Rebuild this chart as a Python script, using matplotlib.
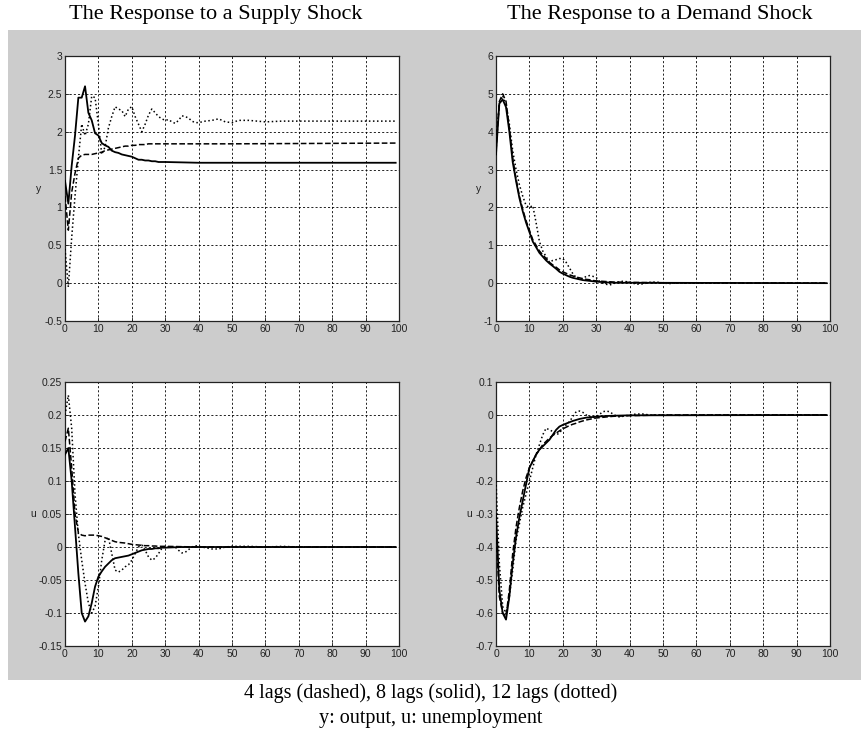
import matplotlib
matplotlib.use("Agg")
import matplotlib.pyplot as plt
from matplotlib.ticker import FuncFormatter
from matplotlib.patches import Rectangle

# impulse responses: first 31 horizons, then sparse tail points
steps = list(range(31))

# supply shock, output (y)
sup_y_8 = [1.35, 1.05, 1.55, 1.95, 2.45, 2.45, 2.6, 2.25, 2.15, 1.98, 1.95, 1.85, 1.82, 1.8, 1.75, 1.73,
           1.72, 1.70, 1.69, 1.68, 1.67, 1.65, 1.63, 1.63, 1.62, 1.62, 1.61, 1.61, 1.60, 1.60, 1.60]
sup_y_8_tx = [40, 99]
sup_y_8_tv = [1.59, 1.59]
sup_y_4 = [1.15, 0.7, 1.2, 1.45, 1.65, 1.69, 1.70, 1.70, 1.70, 1.71, 1.72, 1.73, 1.75, 1.76, 1.77, 1.78,
           1.79, 1.80, 1.81, 1.81, 1.82, 1.82, 1.83, 1.83, 1.83, 1.84, 1.84, 1.84, 1.84, 1.84, 1.84]
sup_y_4_tx = [50, 99]
sup_y_4_tv = [1.84, 1.85]
sup_y_12 = [0.45, -0.05, 0.6, 1.15, 1.65, 2.1, 1.95, 2.1, 2.47, 2.45, 2.1, 1.7, 1.8, 2.05, 2.2, 2.33,
            2.3, 2.28, 2.2, 2.3, 2.33, 2.2, 2.1, 2.0, 2.1, 2.22, 2.3, 2.25, 2.2, 2.17, 2.15]
sup_y_12_tx = [31, 32, 33, 34, 35, 36, 37, 38, 39, 40, 42, 44, 46, 48, 50, 52, 55, 60, 65, 70, 99]
sup_y_12_tv = [2.16, 2.13, 2.11, 2.15, 2.21, 2.2, 2.18, 2.14, 2.12, 2.12, 2.14, 2.15, 2.17, 2.13, 2.12,
               2.15, 2.15, 2.13, 2.14, 2.14, 2.14]

# demand shock, output (y)
dem_y_8 = [3.4, 4.75, 4.85, 4.65, 4.0, 3.2, 2.7, 2.25, 1.9, 1.6, 1.35, 1.1, 0.95, 0.8, 0.7, 0.6,
           0.52, 0.45, 0.38, 0.3, 0.25, 0.21, 0.17, 0.14, 0.12, 0.1, 0.08, 0.07, 0.06, 0.05, 0.04]
dem_y_8_tx = [33, 36, 40, 99]
dem_y_8_tv = [0.02, 0.01, 0.01, 0.0]
dem_y_4 = [3.5, 4.8, 5.0, 4.8, 4.1, 3.3, 2.75, 2.3, 1.95, 1.65, 1.4, 1.15, 1.0, 0.85, 0.75, 0.65,
           0.55, 0.48, 0.42, 0.35, 0.3, 0.26, 0.22, 0.19, 0.16, 0.14, 0.12, 0.1, 0.09, 0.07, 0.06]
dem_y_4_tx = [35, 40, 50, 99]
dem_y_4_tv = [0.03, 0.02, 0.01, 0.0]
dem_y_12 = [3.8, 4.7, 4.95, 4.7, 4.2, 3.5, 3.0, 2.6, 2.3, 2.05, 2.0, 2.05, 1.6, 1.1, 0.85, 0.7,
            0.55, 0.6, 0.62, 0.65, 0.65, 0.55, 0.4, 0.25, 0.15, 0.1, 0.12, 0.18, 0.2, 0.18, 0.15]
dem_y_12_tx = [31, 32, 33, 34, 35, 36, 38, 40, 42, 44, 46, 48, 50, 52, 55, 60, 99]
dem_y_12_tv = [0.05, 0.0, -0.03, -0.05, -0.02, 0.02, 0.05, 0.03, -0.03, -0.02, 0.02, 0.03, 0.0,
               -0.01, 0.01, 0.0, 0.0]

# supply shock, unemployment (u)
sup_u_8 = [0.14, 0.15, 0.1, 0.03, -0.04, -0.1, -0.113, -0.105, -0.085, -0.06, -0.045, -0.037, -0.03,
           -0.025, -0.02, -0.017, -0.016, -0.015, -0.014, -0.013, -0.011, -0.009, -0.007, -0.005,
           -0.004, -0.003, -0.003, -0.002, -0.002, -0.001, -0.001]
sup_u_8_tx = [35, 99]
sup_u_8_tv = [0.0, 0.0]
sup_u_4 = [0.16, 0.18, 0.12, 0.05, 0.022, 0.018, 0.017, 0.018, 0.018, 0.018, 0.017, 0.016, 0.014,
           0.012, 0.01, 0.008, 0.007, 0.0065, 0.006, 0.005, 0.004, 0.0035, 0.003, 0.0025, 0.002,
           0.002, 0.0015, 0.0015, 0.001, 0.001, 0.001]
sup_u_4_tx = [40, 99]
sup_u_4_tv = [0.0, 0.0]
sup_u_12 = [0.2, 0.23, 0.18, 0.08, 0.02, -0.02, -0.055, -0.085, -0.1, -0.09, -0.06, -0.02, 0.01,
            0.015, -0.01, -0.035, -0.038, -0.035, -0.03, -0.027, -0.02, -0.01, 0.0, 0.003, -0.005,
            -0.015, -0.02, -0.017, -0.01, -0.002, 0.001]
sup_u_12_tx = [31, 33, 34, 35, 36, 37, 38, 39, 40, 42, 44, 46, 48, 50, 55, 60, 65, 70, 99]
sup_u_12_tv = [0.0, 0.0, -0.005, -0.009, -0.008, -0.004, 0.0, 0.002, 0.001, -0.001, -0.003, -0.003,
               0.0, 0.001, 0.001, 0.0, 0.001, 0.0, 0.0]

# demand shock, unemployment (u)
dem_u_8 = [-0.3, -0.53, -0.6, -0.62, -0.55, -0.45, -0.37, -0.31, -0.26, -0.21, -0.16, -0.14, -0.12,
           -0.105, -0.095, -0.085, -0.075, -0.06, -0.045, -0.035, -0.03, -0.026, -0.022, -0.018,
           -0.015, -0.012, -0.01, -0.008, -0.007, -0.006, -0.005]
dem_u_8_tx = [33, 36, 40, 99]
dem_u_8_tv = [-0.003, -0.002, -0.001, 0.0]
dem_u_4 = [-0.35, -0.55, -0.6, -0.61, -0.53, -0.42, -0.34, -0.28, -0.23, -0.19, -0.16, -0.14, -0.12,
           -0.105, -0.09, -0.08, -0.07, -0.062, -0.055, -0.048, -0.042, -0.037, -0.032, -0.028,
           -0.025, -0.021, -0.018, -0.015, -0.013, -0.011, -0.009]
dem_u_4_tx = [35, 40, 50, 99]
dem_u_4_tv = [-0.004, -0.002, 0.0, 0.0]
dem_u_12 = [-0.2, -0.45, -0.58, -0.6, -0.55, -0.47, -0.38, -0.33, -0.28, -0.24, -0.2, -0.16, -0.12,
            -0.09, -0.06, -0.04, -0.045, -0.05, -0.06, -0.055, -0.04, -0.03, -0.02, -0.005, 0.01,
            0.012, 0.008, 0.0, -0.005, -0.008, -0.005]
dem_u_12_tx = [31, 32, 33, 34, 35, 36, 37, 38, 40, 42, 44, 46, 50, 55, 60, 99]
dem_u_12_tv = [0.002, 0.01, 0.012, 0.01, 0.003, -0.003, -0.006, -0.004, 0.0, 0.003, 0.003, 0.0, 0.0,
               -0.001, 0.0, 0.0]

titles = ["The Response to a Supply Shock", "The Response to a Demand Shock"]
caption = ["4 lags (dashed), 8 lags (solid), 12 lags (dotted)", "y: output, u: unemployment"]

W, H = 861, 745
fig = plt.figure(figsize=(W / 100, H / 100), dpi=100)
fig.patch.set_facecolor("white")

def px(l, t, r, b):
    return [l / W, 1 - b / H, (r - l) / W, (b - t) / H]

# gray matlab figure area, kept behind the axes
fig.patches.append(Rectangle((8 / W, 1 - 680 / H), (W - 8) / W, 650 / H,
                             transform=fig.transFigure, facecolor="#cccccc",
                             edgecolor="none", zorder=-10))

tick_font = ["Liberation Sans Narrow", "Liberation Sans", "DejaVu Sans"]
serif = ["Liberation Serif", "DejaVu Serif"]

panels = [
    (px(65, 56, 399, 321), (-0.5, 3), 0.5, "y",
     [(sup_y_4, sup_y_4_tx, sup_y_4_tv, "--"), (sup_y_8, sup_y_8_tx, sup_y_8_tv, "-"),
      (sup_y_12, sup_y_12_tx, sup_y_12_tv, ":")]),
    (px(496, 56, 830, 321), (-1, 6), 1, "y",
     [(dem_y_4, dem_y_4_tx, dem_y_4_tv, "--"), (dem_y_8, dem_y_8_tx, dem_y_8_tv, "-"),
      (dem_y_12, dem_y_12_tx, dem_y_12_tv, ":")]),
    (px(65, 382, 399, 646), (-0.15, 0.25), 0.05, "u",
     [(sup_u_4, sup_u_4_tx, sup_u_4_tv, "--"), (sup_u_8, sup_u_8_tx, sup_u_8_tv, "-"),
      (sup_u_12, sup_u_12_tx, sup_u_12_tv, ":")]),
    (px(496, 382, 830, 646), (-0.7, 0.1), 0.1, "u",
     [(dem_u_4, dem_u_4_tx, dem_u_4_tv, "--"), (dem_u_8, dem_u_8_tx, dem_u_8_tv, "-"),
      (dem_u_12, dem_u_12_tx, dem_u_12_tv, ":")]),
]

for pos, ylim, ystep, ylab, series in panels:
    ax = fig.add_axes(pos)
    ax.set_facecolor("white")
    for head, tx, tv, ls in series:
        ax.plot(steps + tx, head + tv, color="black", linestyle=ls,
                lw=1.3 if ls == "-" else 1.1, zorder=3)
    ax.set_xlim(0, 100)
    ax.set_ylim(*ylim)
    ax.set_xticks(range(0, 101, 10))
    n = int(round((ylim[1] - ylim[0]) / ystep))
    ax.set_yticks([ylim[0] + i * ystep for i in range(n + 1)])
    ax.yaxis.set_major_formatter(FuncFormatter(lambda v, p: "%g" % round(v, 4)))
    ax.grid(True, color="black", linestyle=(0, (2.5, 2.5)), lw=0.6)
    ax.tick_params(direction="in", length=3, width=0.6, pad=2, labelsize=7.5,
                   colors="#222222")
    for lbl in ax.get_xticklabels() + ax.get_yticklabels():
        lbl.set_family(tick_font)
    for sp in ax.spines.values():
        sp.set_color("#222222")
        sp.set_linewidth(0.9)
    ax.set_ylabel(ylab, rotation=0, fontsize=7.5, color="#222222", family=tick_font,
                  labelpad=4, va="center")

fig.text(216 / W, 1 - 14 / H, titles[0], ha="center", va="center", fontsize=16, family=serif)
fig.text(660 / W, 1 - 14 / H, titles[1], ha="center", va="center", fontsize=16, family=serif)
fig.text(431 / W, 1 - 693 / H, caption[0], ha="center", va="center", fontsize=14.5, family=serif)
fig.text(431 / W, 1 - 718 / H, caption[1], ha="center", va="center", fontsize=14.5, family=serif)

plt.savefig("out.png", dpi=100)
plt.close()
